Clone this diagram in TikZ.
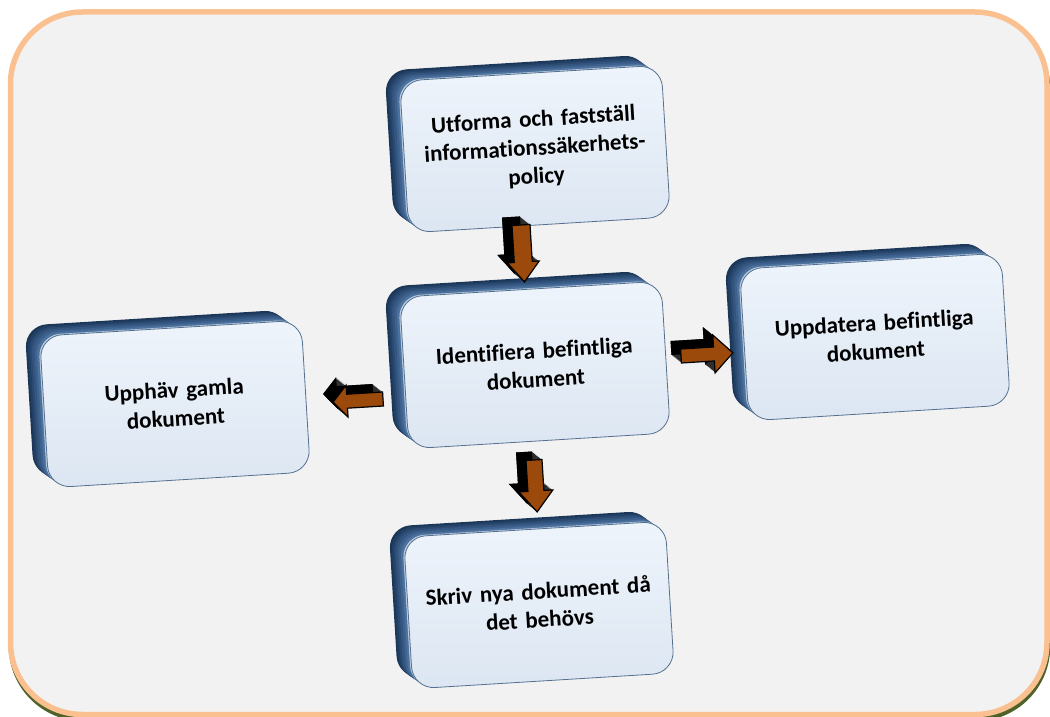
\documentclass[tikz,border=0pt]{standalone}
\usepackage{fontspec}
\setmainfont{Carlito}[Ligatures=NoCommon]
\usetikzlibrary{shadows,calc}
\definecolor{bgfill}{HTML}{F2F2F2}
\definecolor{peach}{HTML}{FAC090}
\definecolor{olivegreen}{HTML}{4F6228}
\definecolor{facetop}{HTML}{EEF4FB}
\definecolor{facebot}{HTML}{DCE6F2}
\definecolor{faceline}{HTML}{56708F}
\definecolor{sideA}{HTML}{1C3657}
\definecolor{sideB}{HTML}{223F64}
\definecolor{sideC}{HTML}{2A4A72}
\definecolor{sideD}{HTML}{33557F}
\definecolor{sideE}{HTML}{3E628D}
\definecolor{sideF}{HTML}{4B719C}
\definecolor{sideG}{HTML}{B9CCE2}
\definecolor{arrfront}{HTML}{9C4A0B}
\definecolor{arrside}{HTML}{2E2E2E}
\tikzset{
  ext/.style n args={3}{general shadow={shadow xshift=#1pt, shadow yshift=#2pt, fill=#3}},
  stepbox/.style={rectangle, rounded corners=22pt, minimum width=262pt,
    minimum height=152pt, inner sep=0pt, text width=252pt, align=center,
    rotate=3.5, font=\bfseries\fontsize{23}{28.5}\selectfont,
    top color=facetop, bottom color=facebot, draw=faceline, line width=0.8pt,
    ext={-15}{10.5}{sideA}, ext={-13}{9}{sideB}, ext={-11}{7.6}{sideC},
    ext={-9}{6.1}{sideD}, ext={-6.5}{4.4}{sideE}, ext={-4}{2.7}{sideF},
    ext={-1.5}{1}{sideG}},
  arrfrontstyle/.style={fill=arrfront, draw=black, line width=1.2pt, line join=miter},
  arrsidestyle/.style={fill=arrside},
  arrbackstyle/.style={fill=black}
}
% #1 start coordinate, #2 angle, #3 length, #4 shaft half width, #5 head half width, #6 head length
\newcommand\blockarr[6]{%
  \foreach \k in {10,...,1}{%
    \begin{scope}[shift={(#1)}, shift={(-\k,-0.8*\k)}, rotate=#2]
      \path[arrsidestyle] (0,-#4) -- (#3-#6,-#4) -- (#3-#6,-#5) -- (#3,0)
        -- (#3-#6,#5) -- (#3-#6,#4) -- (0,#4) -- cycle;
    \end{scope}}%
  \begin{scope}[shift={(#1)}, shift={(-10,-8)}, rotate=#2]
    \path[arrbackstyle] (0,-#4) -- (#3-#6,-#4) -- (#3-#6,-#5) -- (#3,0)
      -- (#3-#6,#5) -- (#3-#6,#4) -- (0,#4) -- cycle;
  \end{scope}
  \begin{scope}[shift={(#1)}, rotate=#2]
    \path[arrfrontstyle] (0,-#4) -- (#3-#6,-#4) -- (#3-#6,-#5) -- (#3,0)
      -- (#3-#6,#5) -- (#3-#6,#4) -- (0,#4) -- cycle;
  \end{scope}}
\begin{document}
\begin{tikzpicture}[x=1pt, y=-1pt]
\useasboundingbox (0,0) rectangle (1050,717);
% frame
\path[draw=olivegreen, line width=5.5pt, rounded corners=72pt] (11.5,16.5) rectangle (1047.5,718.5);
\path[fill=bgfill, draw=peach, line width=5.5pt, rounded corners=72pt] (10.5,12) rectangle (1047,714.5);
% boxes
\node[stepbox] (top) at (535,149) {Utforma och fastställ\\informationssäkerhets-\\policy};
\node[stepbox] (mid) at (535,365) {Identifiera befintliga\\dokument};
\node[stepbox] (right) at (875,337) {Uppdatera befintliga\\dokument};
\node[stepbox] (left) at (175,404) {Upphäv gamla\\dokument};
\node[stepbox] (bottom) at (539,605) {Skriv nya dokument då\\det behövs};
% connectors (block arrows)
\coordinate (a1) at (521,225);
\coordinate (a2) at (534,460);
\coordinate (a3) at (681,356);
\coordinate (a4) at (383,399);
\blockarr{a1}{-86.5}{57}{9}{16}{20}
\blockarr{a2}{-86.5}{52}{8}{17}{21}
\blockarr{a3}{3.5}{52}{7}{19}{19}
\blockarr{a4}{183.5}{50}{7}{16}{14}
\end{tikzpicture}
\end{document}
